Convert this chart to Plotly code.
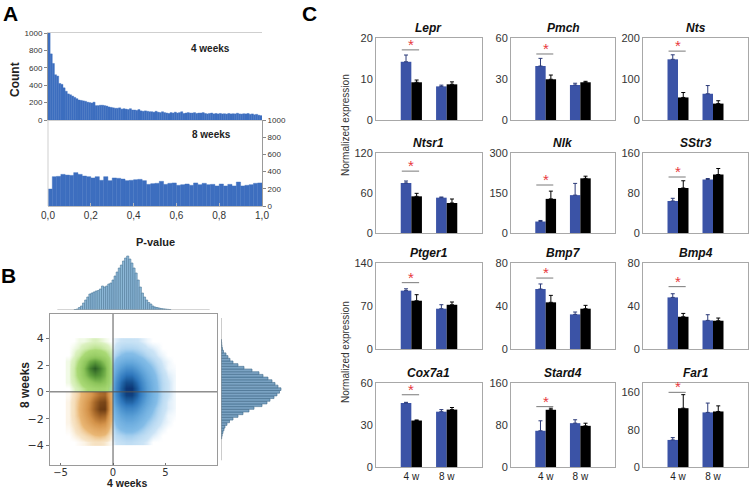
import plotly.graph_objects as go

W, H = 750, 489

# ---------------- Panel A data ----------------
pval_4w_counts = [1000, 760, 650, 520, 505, 420, 410, 370, 330, 300,
                  290, 275, 260, 245, 230, 225, 220, 215, 205, 200,
                  195, 205, 165, 165, 170, 170, 165, 160, 150, 145,
                  140, 135, 135, 140, 125, 130, 125, 120, 130, 115,
                  115, 110, 120, 105, 100, 105, 100, 95, 95, 90,
                  100, 90, 85, 95, 85, 80, 75, 85, 80, 90,
                  80, 85, 95, 75, 80, 85, 80, 80, 85, 75,
                  80, 80, 85, 75, 70, 75, 80, 70, 75, 70,
                  75, 70, 72, 68, 75, 70, 72, 70, 78, 70,
                  68, 72, 70, 75, 65, 70, 60, 65, 55, 50]
pval_8w_counts = [198, 341, 345, 368, 360, 356, 388, 368, 349, 341,
                  326, 341, 299, 341, 295, 326, 322, 314, 295, 299,
                  306, 310, 295, 252, 260, 264, 287, 252, 264, 268,
                  241, 248, 256, 241, 268, 248, 264, 248, 252, 233,
                  256, 233, 252, 233, 279, 233, 241, 248, 264, 268]
pval_ticks = [0, 0.2, 0.4, 0.6, 0.8, 1.0]
pval_ticktext = ["0,0", "0,2", "0,4", "0,6", "0,8", "1,0"]
count_ticks = [0, 200, 400, 600, 800, 1000]

# ---------------- Panel B data ----------------
marg_x_centers = [-3.6, -3.4, -3.2, -3.0, -2.8, -2.6, -2.4, -2.2, -2.0, -1.8,
                  -1.6, -1.4, -1.2, -1.0, -0.8, -0.6, -0.4, -0.2, 0.0, 0.2,
                  0.4, 0.6, 0.8, 1.0, 1.2, 1.4, 1.6, 1.8, 2.0, 2.2,
                  2.4, 2.6, 2.8, 3.0, 3.2, 3.4, 3.6, 3.8, 4.0, 4.2,
                  4.4, 4.6, 4.8, 5.0, 5.2, 5.4]
marg_x_counts = [0.5, 1, 2.5, 4, 7, 10, 13, 16, 17, 18,
                 19, 19.5, 21, 24, 23, 24, 26, 27, 30, 34,
                 38, 42, 45, 49, 52, 54, 51, 47, 42, 37,
                 30, 23, 17, 13, 10, 7.5, 6, 4, 3, 2.5,
                 2, 1.5, 1.2, 1, 0.7, 0.5]
marg_y_centers = [-3.4, -3.2, -3.0, -2.8, -2.6, -2.4, -2.2, -2.0, -1.8, -1.6,
                  -1.4, -1.2, -1.0, -0.8, -0.6, -0.4, -0.2, 0.0, 0.2, 0.4,
                  0.6, 0.8, 1.0, 1.2, 1.4, 1.6, 1.8, 2.0, 2.2, 2.4,
                  2.6, 2.8, 3.0, 3.2, 3.4, 3.6, 3.8]
marg_y_counts = [0.7, 1.2, 2, 3, 4, 6, 8.5, 12, 17, 22,
                 28, 33, 41, 46, 49, 53, 56, 58.5, 60, 57,
                 54, 51, 47, 42, 38, 31, 23, 17, 12, 9,
                 7, 5, 2.5, 1.5, 1, 0.7, 0.5]

blue_x = [-0.25, 0.25, 0.75, 1.25, 1.75, 2.25, 2.75, 3.25, 3.75, 4.25, 4.75, 5.25, 5.75]
blue_y = [-3.75, -3.25, -2.75, -2.25, -1.75, -1.25, -0.75, -0.25,
          0.25, 0.75, 1.25, 1.75, 2.25, 2.75, 3.25, 3.75]
blue_z = [
    [0, 0.3, 0.4, 0.5, 0.5, 0.4, 0.3, 0.2, 0, 0, 0, 0, 0],
    [0, 0.6, 0.8, 1, 1, 0.8, 0.6, 0.4, 0.2, 0.1, 0, 0, 0],
    [0.1, 1, 1.5, 1.8, 1.8, 1.5, 1.1, 0.7, 0.4, 0.2, 0.1, 0, 0],
    [0.3, 1.6, 2.3, 2.8, 2.8, 2.4, 1.8, 1.2, 0.7, 0.4, 0.2, 0.1, 0],
    [0.6, 2.3, 3.4, 4, 4, 3.4, 2.6, 1.8, 1.1, 0.6, 0.3, 0.1, 0.05],
    [1, 3.2, 4.6, 5.5, 5.5, 4.8, 3.6, 2.5, 1.5, 0.8, 0.4, 0.2, 0.1],
    [1.4, 4.2, 6, 7.2, 7.3, 6.2, 4.6, 3.2, 2, 1.1, 0.5, 0.2, 0.1],
    [1.7, 5, 7.3, 8.8, 8.9, 7.5, 5.5, 3.8, 2.3, 1.3, 0.6, 0.3, 0.1],
    [1.8, 5.2, 7.6, 9.2, 9.3, 7.8, 5.7, 3.9, 2.4, 1.3, 0.6, 0.3, 0.1],
    [1.6, 4.8, 7, 8.4, 8.4, 7, 5.2, 3.6, 2.2, 1.2, 0.6, 0.3, 0.1],
    [1.2, 3.8, 5.6, 6.7, 6.7, 5.6, 4.2, 2.9, 1.8, 1, 0.5, 0.2, 0.1],
    [0.8, 2.7, 4, 4.8, 4.8, 4, 3, 2.1, 1.3, 0.7, 0.3, 0.1, 0.05],
    [0.4, 1.7, 2.5, 3, 3, 2.5, 1.9, 1.3, 0.8, 0.4, 0.2, 0.1, 0],
    [0.2, 0.9, 1.4, 1.7, 1.7, 1.4, 1.1, 0.7, 0.4, 0.2, 0.1, 0, 0],
    [0, 0.4, 0.7, 0.8, 0.8, 0.7, 0.5, 0.3, 0.2, 0.1, 0, 0, 0],
    [0, 0.2, 0.3, 0.35, 0.35, 0.3, 0.2, 0.1, 0, 0, 0, 0, 0],
]
neg_x = [-4.25, -3.75, -3.25, -2.75, -2.25, -1.75, -1.25, -0.75, -0.25]
green_y = [0.25, 0.75, 1.25, 1.75, 2.25, 2.75, 3.25, 3.75]
green_z = [
    [0, 0.2, 0.5, 1, 1.6, 2, 2.2, 2, 0.6],
    [0.1, 0.4, 1, 2, 3.2, 4, 4.2, 3.6, 1],
    [0.1, 0.6, 1.6, 3.5, 5.5, 6.5, 6, 4.6, 1.2],
    [0.1, 0.6, 1.8, 4, 7, 8.5, 7, 5, 1.2],
    [0.1, 0.4, 1.3, 3, 5, 5.8, 5, 3.6, 0.9],
    [0, 0.2, 0.6, 1.4, 2.4, 2.8, 2.4, 1.8, 0.5],
    [0, 0.1, 0.2, 0.5, 0.8, 1, 0.9, 0.6, 0.2],
    [0, 0, 0.1, 0.1, 0.2, 0.3, 0.2, 0.1, 0],
]
orange_y = [-3.75, -3.25, -2.75, -2.25, -1.75, -1.25, -0.75, -0.25]
orange_z = [
    [0, 0, 0.05, 0.1, 0.2, 0.3, 0.3, 0.2, 0.05],
    [0, 0.1, 0.2, 0.4, 0.7, 1, 1.1, 0.9, 0.2],
    [0.05, 0.2, 0.5, 1, 1.6, 2.2, 2.5, 2.2, 0.6],
    [0.1, 0.3, 0.8, 1.7, 2.8, 3.8, 4.3, 4, 1.1],
    [0.1, 0.4, 1.1, 2.3, 3.8, 5.2, 6.2, 6, 1.7],
    [0.1, 0.4, 1.2, 2.6, 4.3, 6.2, 7.8, 8, 2.2],
    [0.1, 0.4, 1.1, 2.4, 4, 5.8, 7.2, 7.5, 2.2],
    [0.05, 0.3, 0.8, 1.8, 3, 4.3, 5.4, 5.8, 1.8],
]
scatter_xticks = [-5, 0, 5]
scatter_yticks = [-4, -2, 0, 2, 4]

# ---------------- Panel C data ----------------
genes = ["Lepr", "Pmch", "Nts", "Ntsr1", "Nlk", "SStr3",
         "Ptger1", "Bmp7", "Bmp4", "Cox7a1", "Stard4", "Far1"]
ages = ["4 w", "8 w"]
blue_4w = [14.2, 39.5, 148, 75, 43, 64, 95, 55.8, 48, 45.7, 69, 58]
blue_4w_err = [1.65, 5.6, 11, 3, 4, 5.4, 3, 4.7, 3.4, 0.5, 19, 5]
black_4w = [9.2, 29.8, 55, 55, 128, 90, 78.6, 43.4, 30, 33.2, 109, 126]
black_4w_err = [0.55, 3.1, 12, 4.5, 29, 14.5, 9.8, 6.5, 3.1, 0.4, 3, 29]
blue_8w = [8.2, 25.6, 64, 53, 142, 107, 65.6, 32.2, 26.6, 39.5, 83.5, 117]
blue_8w_err = [0.3, 1.3, 20, 1, 44, 2, 6.5, 2.2, 5.3, 1.5, 6.5, 20]
black_8w = [8.7, 27.6, 40, 45, 205, 117, 72, 37.5, 26.3, 41, 78.4, 119]
black_8w_err = [0.6, 0.7, 7, 6, 8, 12, 4.5, 3.1, 2.5, 1.5, 5, 12]
y_max = [20, 60, 200, 120, 300, 160, 140, 80, 80, 60, 160, 180]
y_ticks = [[0, 10, 20], [0, 30, 60], [0, 100, 200], [0, 60, 120], [0, 150, 300],
           [0, 80, 160], [0, 70, 140], [0, 40, 80], [0, 40, 80], [0, 30, 60],
           [0, 80, 160], [0, 80, 160]]
sig_level = [17.1, 48.3, 168, 92.8, 180, 112, 108, 66, 58, 51.6, 115, 160]

BLUE = "#3b53a6"
HIST_BLUE = "#3d6ebf"
FONT = "Liberation Sans, Arial, sans-serif"


def dx(a, b):
    return [a / W, b / W]


def dy(top, bottom):
    return [1 - bottom / H, 1 - top / H]


fig = go.Figure()
layout = {}
shapes = []
annotations = []

# ---------------- Panel A ----------------
bin4 = [(i + 0.5) / len(pval_4w_counts) for i in range(len(pval_4w_counts))]
bin8 = [(i + 0.5) / len(pval_8w_counts) for i in range(len(pval_8w_counts))]
fig.add_trace(go.Bar(x=bin4, y=pval_4w_counts, width=1 / len(pval_4w_counts),
                     marker=dict(color=HIST_BLUE, line=dict(width=0.4, color=HIST_BLUE)),
                     xaxis="x", yaxis="y", showlegend=False, hoverinfo="skip"))
fig.add_trace(go.Bar(x=bin8, y=pval_8w_counts, width=1 / len(pval_8w_counts),
                     marker=dict(color=HIST_BLUE, line=dict(width=0.4, color=HIST_BLUE)),
                     xaxis="x2", yaxis="y2", showlegend=False, hoverinfo="skip"))

layout["xaxis"] = dict(domain=dx(48, 262), range=[0, 1], anchor="y", showticklabels=False,
                       showgrid=False, zeroline=False, showline=True, mirror=True,
                       linecolor="#cfcfcf", ticks="")
layout["yaxis"] = dict(domain=dy(33, 120), range=[0, 1000], anchor="x", tickvals=count_ticks,
                       ticks="outside", ticklen=3, tickcolor="#888", showgrid=False, zeroline=False,
                       showline=True, linecolor="#9a9a9a", tickfont=dict(size=8, color="#333"))
layout["xaxis2"] = dict(domain=dx(48, 262), range=[0, 1], anchor="y2", tickvals=pval_ticks,
                        ticktext=pval_ticktext, ticks="inside", ticklen=3, tickcolor="#bbb",
                        showgrid=False, zeroline=False, showline=True, linecolor="#bdbdbd",
                        tickfont=dict(size=10, color="#333"))
layout["yaxis2"] = dict(domain=dy(120, 206), range=[0, 1000], anchor="x2", side="right",
                        tickvals=count_ticks, ticks="outside", ticklen=3, tickcolor="#888",
                        showgrid=False, zeroline=False, showline=True, linecolor="#9a9a9a",
                        tickfont=dict(size=8, color="#333"))
shapes.append(dict(type="line", xref="paper", yref="paper", x0=48 / W, x1=48 / W,
                   y0=1 - 206 / H, y1=1 - 120 / H, line=dict(color="#cfcfcf", width=1)))
annotations += [
    dict(text="<b>Count</b>", x=15 / W, y=1 - 80 / H, textangle=-90, font=dict(size=12, family=FONT)),
    dict(text="<b>4 weeks</b>", x=210 / W, y=1 - 49 / H, font=dict(size=10, family=FONT)),
    dict(text="<b>8 weeks</b>", x=211 / W, y=1 - 134 / H, font=dict(size=10, family=FONT)),
    dict(text="<b>P-value</b>", x=155 / W, y=1 - 242 / H, font=dict(size=11, family=FONT)),
]

# ---------------- Panel B ----------------
def cs(stops):
    return [[p, c] for p, c in stops]


blue_cs = cs([(0, "rgba(170,210,240,0)"), (0.03, "rgba(160,205,238,0.55)"),
              (0.15, "rgba(125,185,230,0.95)"), (0.4, "#5a9fd6"), (0.68, "#2f78bd"),
              (0.88, "#15508f"), (1, "#0b2f6e")])
green_cs = cs([(0, "rgba(190,230,140,0)"), (0.03, "rgba(190,230,140,0.55)"),
               (0.15, "rgba(165,215,110,0.95)"), (0.45, "#8cc45a"), (0.7, "#5a9a3a"),
               (1, "#2a5e24")])
orange_cs = cs([(0, "rgba(240,205,150,0)"), (0.03, "rgba(240,205,150,0.55)"),
                (0.15, "rgba(232,178,108,0.95)"), (0.45, "#d4934a"), (0.7, "#a8692a"),
                (1, "#6a3a12")])

fig.add_trace(go.Heatmap(x=blue_x, y=blue_y, z=blue_z, zmin=0, zmax=9.5, zsmooth="best",
                         colorscale=blue_cs, showscale=False, hoverinfo="skip",
                         xaxis="x3", yaxis="y3"))
fig.add_trace(go.Heatmap(x=neg_x, y=green_y, z=green_z, zmin=0, zmax=8.5, zsmooth="best",
                         colorscale=green_cs, showscale=False, hoverinfo="skip",
                         xaxis="x3", yaxis="y3"))
fig.add_trace(go.Heatmap(x=neg_x, y=orange_y, z=orange_z, zmin=0, zmax=8, zsmooth="best",
                         colorscale=orange_cs, showscale=False, hoverinfo="skip",
                         xaxis="x3", yaxis="y3"))

layout["xaxis3"] = dict(domain=dx(50, 217), range=[-6, 9.9], anchor="y3", tickvals=scatter_xticks,
                        ticks="inside", ticklen=2, tickcolor="#777", showgrid=False, zeroline=False,
                        showline=True, mirror=True, linecolor="#9a9a9a", ticklabelstandoff=-2,
                        tickfont=dict(size=10, color="#333", family="DejaVu Sans"))
layout["yaxis3"] = dict(domain=dy(314, 465), range=[-5.45, 5.8], anchor="x3", tickvals=scatter_yticks,
                        ticks="outside", ticklen=3, tickcolor="#777", showgrid=False, zeroline=False,
                        showline=True, mirror=True, linecolor="#9a9a9a",
                        tickfont=dict(size=11, color="#333", family="DejaVu Sans"))
shapes.append(dict(type="line", xref="x3", yref="paper", x0=0, x1=0, y0=1 - 465 / H, y1=1 - 314 / H,
                   line=dict(color="#555", width=1), layer="above"))
shapes.append(dict(type="line", xref="paper", yref="y3", x0=50 / W, x1=217 / W, y0=0, y1=0,
                   line=dict(color="#555", width=1), layer="above"))

# top marginal histogram
fig.add_trace(go.Bar(x=marg_x_centers, y=marg_x_counts, width=0.2,
                     marker=dict(color="#8db8d8", line=dict(color="#4d7898", width=0.6)),
                     xaxis="x4", yaxis="y4", showlegend=False, hoverinfo="skip"))
layout["xaxis4"] = dict(domain=dx(50, 217), range=[-6, 9.9], anchor="y4", visible=False)
layout["yaxis4"] = dict(domain=dy(254, 310), range=[0, 56], anchor="x4", visible=False)
shapes.append(dict(type="line", xref="x4", yref="y4", x0=-5.3, x1=9.2, y0=0, y1=0,
                   line=dict(color="#aaa", width=1)))

# right marginal histogram
fig.add_trace(go.Bar(y=marg_y_centers, x=marg_y_counts, width=0.2, orientation="h",
                     marker=dict(color="#7ba3c3", line=dict(color="#3e6888", width=0.6)),
                     xaxis="x5", yaxis="y5", showlegend=False, hoverinfo="skip"))
layout["xaxis5"] = dict(domain=dx(221, 284), range=[0, 63], anchor="y5", visible=False)
layout["yaxis5"] = dict(domain=dy(314, 465), range=[-5.45, 5.8], anchor="x5", visible=False)
shapes.append(dict(type="line", xref="x5", yref="y5", x0=0, x1=0, y0=-5.1, y1=5.5,
                   line=dict(color="#999", width=1)))

annotations += [
    dict(text="<b>4 weeks</b>", x=127 / W, y=1 - 483 / H, font=dict(size=10.5, family=FONT)),
    dict(text="<b>8 weeks</b>", x=25 / W, y=1 - 385 / H, textangle=-90, font=dict(size=12, family=FONT)),
]

# ---------------- Panel C ----------------
col_x = [(376, 482), (511, 615), (643, 748)]
row_y = [(38, 120), (153, 233), (263, 349), (383, 467)]
title_y = [28, 143, 253, 373]
for g, gene in enumerate(genes):
    r, c = g // 3, g % 3
    n = 6 + g
    xa, ya = f"x{n}", f"y{n}"
    fig.add_trace(go.Bar(x=[1, 2], y=[blue_4w[g], blue_8w[g]], width=0.3, offset=-0.3,
                         marker=dict(color=BLUE, line=dict(width=0)),
                         error_y=dict(type="data", symmetric=False, array=[blue_4w_err[g], blue_8w_err[g]],
                                      arrayminus=[0, 0], color="#2b3a78", thickness=1, width=2),
                         xaxis=xa, yaxis=ya, showlegend=False, hoverinfo="skip"))
    fig.add_trace(go.Bar(x=[1, 2], y=[black_4w[g], black_8w[g]], width=0.3, offset=0,
                         marker=dict(color="#000000", line=dict(width=0)),
                         error_y=dict(type="data", symmetric=False, array=[black_4w_err[g], black_8w_err[g]],
                                      arrayminus=[0, 0], color="#000000", thickness=1, width=2),
                         xaxis=xa, yaxis=ya, showlegend=False, hoverinfo="skip"))
    xkey = "xaxis" + str(n)
    ykey = "yaxis" + str(n)
    layout[xkey] = dict(domain=dx(*col_x[c]), range=[0, 3], anchor=ya, tickvals=[1, 2],
                        ticktext=ages, showticklabels=(r == 3), ticks="", showgrid=False,
                        zeroline=False, showline=True, mirror=True, linecolor="#a8a8a8",
                        tickfont=dict(size=10, color="#222", family=FONT))
    layout[ykey] = dict(domain=dy(*row_y[r]), range=[0, y_max[g]], anchor=xa, tickvals=y_ticks[g],
                        ticks="", showgrid=False, zeroline=False, showline=True, mirror=True,
                        linecolor="#a8a8a8", tickfont=dict(size=11, color="#333", family=FONT))
    shapes.append(dict(type="line", xref=xa, yref=ya, x0=0.73, x1=1.22, y0=sig_level[g], y1=sig_level[g],
                       line=dict(color="#7a7a7a", width=1)))
    annotations.append(dict(text="*", xref=xa, yref=ya, x=1, y=sig_level[g], xanchor="center",
                            yanchor="bottom", yshift=-5, showarrow=False,
                            font=dict(size=15, color="#e8383d", family=FONT)))
    annotations.append(dict(text=f"<b><i>{gene}</i></b>", x=sum(col_x[c]) / 2 / W, y=1 - title_y[r] / H,
                            font=dict(size=12, family=FONT, color="#111")))

annotations += [
    dict(text="Normalized expression", x=345 / W, y=1 - 125 / H, textangle=-90,
         font=dict(size=10, family=FONT, color="#333")),
    dict(text="Normalized expression", x=345 / W, y=1 - 352 / H, textangle=-90,
         font=dict(size=10, family=FONT, color="#333")),
    dict(text="<b>A</b>", x=10 / W, y=1 - 13 / H, font=dict(size=21, family=FONT, color="#000")),
    dict(text="<b>B</b>", x=8 / W, y=1 - 275 / H, font=dict(size=21, family=FONT, color="#000")),
    dict(text="<b>C</b>", x=309 / W, y=1 - 13 / H, font=dict(size=21, family=FONT, color="#000")),
]
for a in annotations:
    a.setdefault("xref", "paper")
    a.setdefault("yref", "paper")
    a.setdefault("showarrow", False)
    a.setdefault("xanchor", "center")
    a.setdefault("yanchor", "middle")

for k, v in layout.items():
    v["automargin"] = False

fig.update_layout(template="none", width=W, height=H, margin=dict(l=0, r=0, t=0, b=0, pad=0),
                  paper_bgcolor="white", plot_bgcolor="white", barmode="overlay",
                  font=dict(family=FONT, color="#222"), shapes=shapes, annotations=annotations,
                  showlegend=False, hovermode=False, **layout)
fig.write_html("out.html", config={"displayModeBar": False, "staticPlot": True},
               post_script="document.body.style.margin='0px';document.body.style.padding='0px';")
